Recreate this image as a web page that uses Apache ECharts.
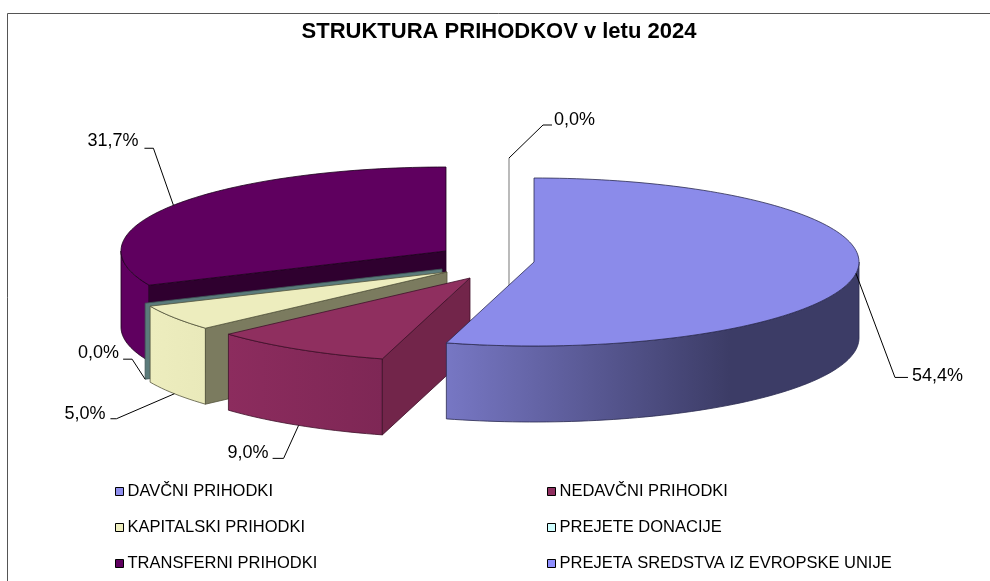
<!DOCTYPE html>
<html>
<head>
<meta charset="utf-8">
<style>html,body{margin:0;padding:0;background:#fff}#c{width:990px;height:581px}</style>
<script src="https://cdn.jsdelivr.net/npm/echarts@6/dist/echarts.min.js"></script>
</head>
<body>
<div id="c"></div>
<script>
var categories = ['DAVČNI PRIHODKI','NEDAVČNI PRIHODKI','KAPITALSKI PRIHODKI','PREJETE DONACIJE','TRANSFERNI PRIHODKI','PREJETA SREDSTVA IZ EVROPSKE UNIJE'];
var shares = [54.4, 9.0, 5.0, 0.0, 31.7, 0.0];
var titleText = 'STRUKTURA PRIHODKOV v letu 2024';

var legendColors = ['#8F8FEE','#8F2F5F','#EFEFBF','#CFFFFF','#5F005F','#8F8FFF'];
var topColors    = ['#8B8BEA','#8F2F5F','#EDEDBE','#9FCFCF','#5F005F','#AAAAAA'];
var faceColors   = ['#46467C','#72254A','#7B7B5F','#5B7B7B','#2F002F','#AAAAAA'];
var wallStops = [
  [[446,'#7777C4'],[730,'#3C3C66'],[859,'#3C3C66']],
  [[228,'#8C2C5E'],[383,'#7E2755']],
  [[150,'#EDEDBE'],[205,'#E9E9BA']],
  null,
  [[121,'#5F005F'],[150,'#5F005F']],
  null
];
var strokeColors = ['#2B2B50','#3F1029','#55553E','#3D5555','#1C001C','#AAAAAA'];
// exploded slice centres in pixels
var centers = [[534,262],[470,278],[447,272],[442,269],[446,251],[509,242]];
var RX = 325, RY = 84, DEPTH = 76;
var drawZ = [9,7,6,5,4,3];
// leader route relative to the rim anchor; label offset relative to the last bend
var leaders = [
  {wall:false, pts:[[39,104],[52,104]], align:'left',  lbl:[4,-1]},
  {wall:true,  pts:[[-15,33],[-26,33]], align:'right', lbl:[-4,-5]},
  {wall:true,  pts:[[-58,25],[-64,25]], align:'right', lbl:[-5,-5]},
  {wall:true,  pts:[[-13,-20],[-22,-20]], align:'right', lbl:[-4,-6]},
  {wall:false, pts:[[-20,-57],[-29,-57]], align:'right', lbl:[-6,-7]},
  {wall:false, pts:[[34,-33],[43,-33]], align:'left',  lbl:[2,-5]}
];

var total = shares.reduce(function(a,b){return a+b;},0);
var starts = [], ends = [];
shares.reduce(function(acc,v,i){ starts[i]=acc; ends[i]=acc+v/total*360; return ends[i]; },0);

function pt(c,deg,dy){
  var t = deg*Math.PI/180;
  return [c[0]+RX*Math.sin(t), c[1]-RY*Math.cos(t)+(dy||0)];
}
function arc(c,a,b,dy){
  var n = Math.max(2,Math.ceil(Math.abs(b-a)/1.5)), out=[];
  for(var i=0;i<=n;i++) out.push(pt(c,a+(b-a)*i/n,dy));
  return out;
}
function fmt(v){ return v.toFixed(1).replace('.',',')+'%'; }
function wallFill(i){
  var s = wallStops[i]; if(!s) return faceColors[i];
  var x0=s[0][0], x1=s[s.length-1][0];
  return new echarts.graphic.LinearGradient(x0,0,x1,0,s.map(function(p){
    return {offset:(p[0]-x0)/(x1-x0),color:p[1]};
  }),true);
}
function makeRender(i){
  return function(params,api){
    var v = api.value(0), c = centers[i], a = starts[i], b = ends[i], kids = [];
    var down = [c[0],c[1]+DEPTH];
    function radial(deg){
      var o = pt(c,deg), od = pt(c,deg,DEPTH);
      kids.push({type:'polygon',shape:{points:[o,c,down,od]},
        style:{fill:faceColors[i],stroke:strokeColors[i],lineWidth:i===5?1.6:0.8}});
    }
    // outer wall, only the part that faces the viewer
    var wa = Math.max(a,90), wb = Math.min(b,270);
    if(wb>wa){
      kids.push({type:'polygon',shape:{points:arc(c,wa,wb).concat(arc(c,wb,wa,DEPTH))},
        style:{fill:wallFill(i),stroke:strokeColors[i],lineWidth:0.8}});
    }
    if(b-a<0.001){ radial(a); }
    else{
      var ta=a*Math.PI/180, tb=b*Math.PI/180;
      if(Math.sin(ta)<-1e-6) radial(a);
      if(Math.sin(tb)>1e-6) radial(b);
      kids.push({type:'polygon',shape:{points:[c].concat(arc(c,a,b))},
        style:{fill:topColors[i],stroke:strokeColors[i],lineWidth:0.8}});
    }
    return {type:'group',children:kids};
  };
}
function makeLabelRender(i){
  return function(params,api){
    var L = leaders[i], c = centers[i], mid = (starts[i]+ends[i])/2;
    var A = pt(c,mid,L.wall?DEPTH:0);
    var pts = [A].concat(L.pts.map(function(d){return [A[0]+d[0],A[1]+d[1]];}));
    var last = pts[pts.length-1];
    return {type:'group',children:[
      {type:'polyline',shape:{points:pts},style:{fill:null,stroke:'#000',lineWidth:1}},
      {type:'text',x:last[0]+L.lbl[0],y:last[1]+L.lbl[1],style:{
        text:fmt(api.value(0)),fill:'#000',fontSize:18,fontFamily:'Liberation Sans',
        align:L.align,verticalAlign:'middle'}}
    ]};
  };
}

var series = categories.map(function(n,i){
  return {type:'custom',name:n,coordinateSystem:'none',silent:true,z:drawZ[i],
    itemStyle:{color:legendColors[i]},data:[[shares[i]]],renderItem:makeRender(i),animation:false};
}).concat(categories.map(function(n,i){
  return {type:'custom',name:n+' ',coordinateSystem:'none',silent:true,z:20,
    data:[[shares[i]]],renderItem:makeLabelRender(i),animation:false};
}));

function legendCol(left,names){
  return {orient:'vertical',left:left,top:483,itemWidth:8,itemHeight:8,itemGap:19,icon:'rect',
    selectedMode:false,data:names,padding:0,
    itemStyle:{borderColor:'#000',borderWidth:1},
    textStyle:{color:'#000',fontSize:16.5,fontFamily:'Liberation Sans',padding:[0,0,0,-1]}};
}

var chart = echarts.init(document.getElementById('c'),null,{renderer:'canvas'});
chart.setOption({
  animation:false,
  backgroundColor:'#fff',
  title:{text:titleText,left:499,top:21,textAlign:'center',padding:0,
    textStyle:{color:'#000',fontSize:22,fontWeight:'bold',fontFamily:'Liberation Sans'}},
  legend:[
    legendCol(115,[categories[0],categories[2],categories[4]]),
    legendCol(547,[categories[1],categories[3],categories[5]])
  ],
  graphic:[{type:'polyline',silent:true,shape:{points:[[7.5,581],[7.5,13.5],[990,13.5]]},
    style:{fill:null,stroke:'#555',lineWidth:1}}],
  series:series
});
</script>
</body>
</html>
